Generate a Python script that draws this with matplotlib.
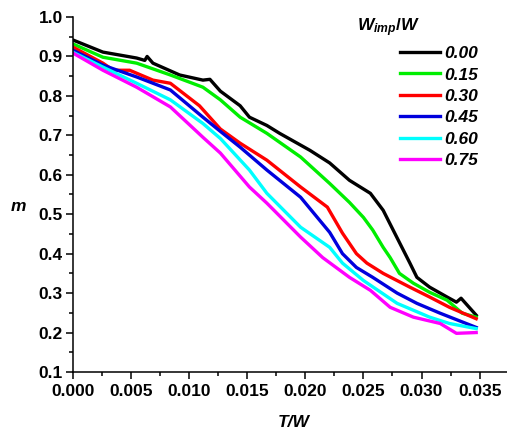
import matplotlib
matplotlib.use("Agg")
import matplotlib.pyplot as plt
from matplotlib.ticker import MultipleLocator, FormatStrFormatter

plt.rcParams['font.family'] = ['Liberation Sans', 'DejaVu Sans']
plt.rcParams['font.weight'] = 'bold'
plt.rcParams['mathtext.fontset'] = 'custom'
plt.rcParams['mathtext.it'] = 'Liberation Sans:italic:bold'
plt.rcParams['mathtext.rm'] = 'Liberation Sans:bold'

# T/W sample points and m values
t_000 = [0.0, 0.0026, 0.0055, 0.0062, 0.0064, 0.0069, 0.0092, 0.0112, 0.0118, 0.0127,
         0.0144, 0.0152, 0.0167, 0.0178, 0.0204, 0.0221, 0.0238, 0.0256, 0.0267, 0.0279,
         0.0290, 0.0296, 0.0307, 0.0322, 0.0330, 0.0334, 0.0347]
m_000 = [0.942, 0.911, 0.896, 0.890, 0.900, 0.883, 0.853, 0.840, 0.842, 0.812,
         0.775, 0.746, 0.725, 0.705, 0.662, 0.630, 0.586, 0.553, 0.510, 0.440,
         0.376, 0.340, 0.315, 0.290, 0.277, 0.287, 0.244]

t_015 = [0.0, 0.0026, 0.0055, 0.0084, 0.0112, 0.0127, 0.0144, 0.0167, 0.0196, 0.0221,
         0.0238, 0.0250, 0.0258, 0.0267, 0.0273, 0.0281, 0.0293, 0.0307, 0.0322, 0.0335,
         0.0347]
m_015 = [0.932, 0.898, 0.883, 0.853, 0.822, 0.790, 0.746, 0.705, 0.645, 0.578,
         0.530, 0.492, 0.460, 0.416, 0.390, 0.350, 0.325, 0.302, 0.282, 0.249,
         0.239]

t_030 = [0.0, 0.0026, 0.0035, 0.0049, 0.0069, 0.0084, 0.0109, 0.0127, 0.0144, 0.0167,
         0.0196, 0.0219, 0.0232, 0.0244, 0.0253, 0.0267, 0.0290, 0.0307, 0.0324, 0.0347]
m_030 = [0.924, 0.883, 0.865, 0.865, 0.840, 0.832, 0.775, 0.716, 0.680, 0.637,
         0.569, 0.518, 0.452, 0.400, 0.376, 0.350, 0.315, 0.290, 0.264, 0.235]

t_045 = [0.0, 0.0026, 0.0055, 0.0084, 0.0112, 0.0127, 0.0144, 0.0167, 0.0196, 0.0221,
         0.0232, 0.0244, 0.0258, 0.0279, 0.0296, 0.0316, 0.0347]
m_045 = [0.916, 0.878, 0.848, 0.815, 0.746, 0.710, 0.670, 0.612, 0.543, 0.454,
         0.400, 0.365, 0.340, 0.300, 0.274, 0.249, 0.213]

t_060 = [0.0, 0.0026, 0.0055, 0.0084, 0.0112, 0.0127, 0.0152, 0.0167, 0.0196, 0.0221,
         0.0232, 0.0250, 0.0279, 0.0307, 0.0324, 0.0347]
m_060 = [0.911, 0.873, 0.832, 0.790, 0.730, 0.692, 0.612, 0.553, 0.467, 0.416,
         0.376, 0.332, 0.274, 0.239, 0.223, 0.210]

t_075 = [0.0, 0.0026, 0.0055, 0.0084, 0.0112, 0.0127, 0.0152, 0.0167, 0.0196, 0.0215,
         0.0238, 0.0256, 0.0273, 0.0293, 0.0316, 0.0330, 0.0347]
m_075 = [0.909, 0.865, 0.822, 0.772, 0.695, 0.655, 0.569, 0.528, 0.442, 0.390,
         0.340, 0.307, 0.264, 0.239, 0.223, 0.198, 0.200]

labels = ["0.00", "0.15", "0.30", "0.45", "0.60", "0.75"]
colors = ["black", "#00ee00", "red", "#0000dd", "cyan", "magenta"]
ts = [t_000, t_015, t_030, t_045, t_060, t_075]
ms = [m_000, m_015, m_030, m_045, m_060, m_075]

fig = plt.figure(figsize=(5.07, 4.34), dpi=100)
ax = fig.add_axes([0.1434, 0.1429, 0.8566, 0.8179])

for t, m, c, lab in zip(ts, ms, colors, labels):
    ax.plot(t, m, color=c, lw=2.4, label=lab)

ax.set_xlim(0, 0.03735)
ax.set_ylim(0.1, 1.0)
ax.xaxis.set_major_locator(MultipleLocator(0.005))
ax.xaxis.set_minor_locator(MultipleLocator(0.0025))
ax.yaxis.set_major_locator(MultipleLocator(0.1))
ax.yaxis.set_minor_locator(MultipleLocator(0.05))
ax.xaxis.set_major_formatter(FormatStrFormatter('%.3f'))
ax.yaxis.set_major_formatter(FormatStrFormatter('%.1f'))
for s in ['top', 'right']:
    ax.spines[s].set_visible(False)
for s in ['left', 'bottom']:
    ax.spines[s].set_linewidth(1.1)
ax.tick_params(which='major', direction='out', length=5, width=1.1, labelsize=12.5)
ax.tick_params(axis='y', which='major', pad=2)
ax.tick_params(which='minor', direction='out', length=3, width=1.1)

ax.set_xlabel("T/W", fontsize=12.5, fontstyle='italic', fontweight='bold')
ax.xaxis.set_label_coords(0.51, -0.12)
ax.set_ylabel("m", fontsize=12.5, fontstyle='italic', fontweight='bold', rotation=0,
              ha='center', va='center')
ax.yaxis.set_label_coords(-0.125, 0.465)

fig.text(388 / 507, 1 - 28 / 434, "$W_{imp}/W$", ha='center', va='center', fontsize=12.5)
ax.legend(loc='upper left', bbox_to_anchor=(400 / 507, 1 - 46 / 434),
          bbox_transform=fig.transFigure, frameon=False, borderpad=0, borderaxespad=0,
          handlelength=2.3, handletextpad=0.25, labelspacing=0.36,
          prop={'style': 'italic', 'weight': 'bold', 'size': 12.5})

fig.savefig("out.png", dpi=100)
